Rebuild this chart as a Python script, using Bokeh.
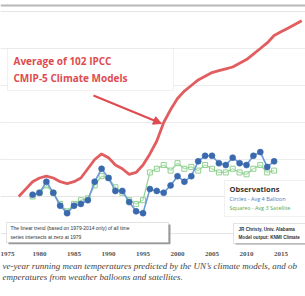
from bokeh.plotting import figure
from bokeh.models import (Label, BoxAnnotation, Arrow, NormalHead, FixedTicker,
                          Grid, Title, Span)
from bokeh.embed import file_html
from bokeh.resources import INLINE

# ---- data (5-year running means, deg C) ----
model_years = list(range(1977, 2019))
model_avg = [0.00, 0.04, 0.08, 0.10, 0.11, 0.10, 0.08, 0.07, 0.08, 0.10,
             0.15, 0.20, 0.23, 0.21, 0.17, 0.15, 0.12, 0.13, 0.17, 0.23,
             0.30, 0.40, 0.47, 0.53, 0.57, 0.60, 0.63, 0.65, 0.67, 0.68,
             0.69, 0.70, 0.72, 0.74, 0.77, 0.80, 0.83, 0.87, 0.89, 0.91,
             0.93, 0.95]

obs_years = list(range(1979, 2015))
balloons = [0.01, 0.02, 0.08, 0.02, -0.05, -0.09, -0.05, -0.04, -0.02, 0.08,
            0.15, 0.10, 0.03, 0.03, -0.03, -0.08, -0.09, 0.04, 0.03, 0.02,
            0.06, 0.11, 0.08, 0.11, 0.19, 0.22, 0.22, 0.18, 0.17, 0.21,
            0.18, 0.17, 0.22, 0.24, 0.16, 0.19]
satellites = [0.00, 0.02, 0.06, 0.02, -0.04, -0.08, -0.04, -0.02, -0.01, 0.06,
              0.11, 0.10, 0.05, 0.02, -0.02, -0.04, -0.02, 0.13, 0.15, 0.17,
              0.14, 0.18, 0.15, 0.16, 0.14, 0.17, 0.15, 0.13, 0.13, 0.15,
              0.13, 0.12, 0.15, 0.17, 0.13, 0.14]

tick_years = [1975, 1980, 1985, 1990, 1995, 2000, 2005, 2010, 2015]
grid_levels = [0.2, 0.4, 0.6, 0.8]
caption = ("ve-year running mean temperatures predicted by the UN\u2019s climate models, and ob\n"
           "emperatures from weather balloons and satellites.")

# ---- layout helpers: pixel -> data coordinates (for annotations only) ----
def dx(px):
    return 1980 + (px - 39) / 6.9

def dy(py):
    return (196 - py) / 185

RED = "#de4b4f"
BLUE = "#3a69ad"
BLUE_LINE = "#6a9bd8"
GREEN = "#8fd18f"

p = figure(width=305, height=296, x_range=(dx(0), dx(305)),
           y_range=(dy(244), dy(0)), output_backend="svg",
           toolbar_location=None, y_axis_location=None, min_border=0,
           min_border_bottom=52)
p.outline_line_color = None
p.xgrid.visible = False
p.background_fill_color = "white"
p.border_fill_color = "white"

grid = Grid(dimension=1, ticker=FixedTicker(ticks=grid_levels),
            grid_line_color="#ececec", grid_line_width=1)
p.add_layout(grid)
p.add_layout(Span(location=dy(5), dimension="width", line_color="#b8b8b8",
                  line_width=2))

# x axis
ax = p.xaxis[0]
ax.ticker = FixedTicker(ticks=tick_years)
ax.axis_line_color = None
ax.major_tick_line_color = None
ax.minor_tick_line_color = None
ax.major_label_text_font = "Liberation Serif"
ax.major_label_text_font_style = "bold"
ax.major_label_text_font_size = "7px"
ax.major_label_text_color = "#555555"
ax.major_label_standoff = 1

# caption below (two lines)
t1 = Title(text=caption, align="left", text_font="Liberation Serif",
           text_font_style="italic", text_font_size="9px",
           text_line_height=1.1, text_color="#444444", standoff=0, offset=2)
p.add_layout(t1, "below")

# series
p.line(model_years, model_avg, line_color=RED, line_width=2.8, line_alpha=0.9)
p.line(obs_years, satellites, line_color=GREEN, line_width=1.2)
p.scatter(obs_years, satellites, marker="square", size=5, fill_color="white",
          fill_alpha=0.3, line_color=GREEN, line_width=1)
p.line(obs_years, balloons, line_color=BLUE_LINE, line_width=1.6)
p.scatter(obs_years, balloons, marker="circle", size=6, fill_color=BLUE,
          line_color=BLUE, line_alpha=0.6)

# model label box + arrow
p.add_layout(BoxAnnotation(left=dx(7), right=dx(173), top=dy(48), bottom=dy(90),
                           fill_color="white", fill_alpha=1, line_color="#cfcfcf",
                           line_width=1, level="annotation"))
for txt, py in [("Average of 102 IPCC", 60), ("CMIP-5 Climate Models", 77)]:
    p.add_layout(Label(x=dx(13), y=dy(py), text=txt, text_color=RED,
                       text_font="Open Sans", text_font_style="bold",
                       text_font_size="10px", text_baseline="middle"))
p.add_layout(Arrow(x_start=dx(93), y_start=dy(95), x_end=dx(161), y_end=dy(123),
                   line_color=RED, line_width=2,
                   end=NormalHead(size=8, fill_color=RED, line_color=RED)))

# observations legend box
p.add_layout(BoxAnnotation(left=dx(224), right=dx(330), top=dy(180), bottom=dy(216),
                           fill_color="white", fill_alpha=1, line_color="#cfcfcf",
                           line_width=1, level="annotation"))
p.add_layout(Label(x=dx(229), y=dy(188), text="Observations", text_color="#333333",
                   text_font="Open Sans", text_font_style="bold",
                   text_font_size="7.5px", text_baseline="middle"))
p.add_layout(Label(x=dx(229), y=dy(198), text="Circles - Avg 4 Balloon",
                   text_color="#4a7cc0", text_font="Open Sans",
                   text_font_size="5.5px", text_baseline="middle"))
p.add_layout(Label(x=dx(229), y=dy(207), text="Squares - Avg 3 Satellite",
                   text_color="#55aa55", text_font="Open Sans",
                   text_font_size="5.5px", text_baseline="middle"))

# trend note box (with shadow)
p.add_layout(BoxAnnotation(left=dx(8), right=dx(170), top=dy(224), bottom=dy(244),
                           fill_color="#999999", fill_alpha=1, line_color=None,
                           level="annotation"))
p.add_layout(BoxAnnotation(left=dx(6), right=dx(168), top=dy(222), bottom=dy(242),
                           fill_color="white", fill_alpha=1, line_color="#888888",
                           line_width=0.8, level="annotation"))
for txt, py in [("The linear trend (based on 1979-2014 only) of all time", 227.5),
                ("series intersects at zero at 1979", 236)]:
    p.add_layout(Label(x=dx(10), y=dy(py), text=txt, text_color="#333333",
                       text_font="Liberation Sans", text_font_size="5px",
                       text_baseline="middle"))

# credit box (with shadow)
p.add_layout(BoxAnnotation(left=dx(235), right=dx(330), top=dy(225), bottom=dy(245),
                           fill_color="#999999", fill_alpha=1, line_color=None,
                           level="annotation"))
p.add_layout(BoxAnnotation(left=dx(233), right=dx(330), top=dy(223), bottom=dy(243),
                           fill_color="white", fill_alpha=1, line_color="#888888",
                           line_width=0.8, level="annotation"))
for txt, py in [("JR Christy, Univ. Alabama", 228.5),
                ("Model output: KNMI Climate", 237)]:
    p.add_layout(Label(x=dx(238), y=dy(py), text=txt, text_color="#333333",
                       text_font="Liberation Sans", text_font_style="bold",
                       text_font_size="4.6px", text_baseline="middle"))

open("out.html", "w").write(file_html(p, INLINE))
